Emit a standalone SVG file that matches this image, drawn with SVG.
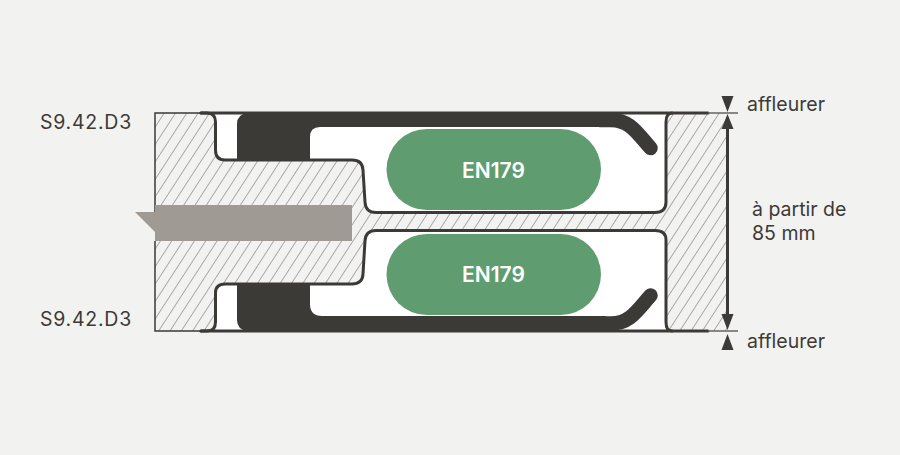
<svg xmlns="http://www.w3.org/2000/svg" width="900" height="455" viewBox="0 0 900 455">
<style>
.o{fill:none;stroke:#3c3a37;stroke-width:3;stroke-linejoin:round;stroke-linecap:round}
.d{fill:#3c3a37}
.l{fill:none;stroke:#3c3a37;stroke-width:14.500;stroke-linecap:round}
.g{fill:#5f9d71}
.t{font-family:"Inter","Liberation Sans",sans-serif;font-size:19.5px;fill:#3c3a37}
.c{letter-spacing:.75px}
.w{font-family:"Inter","Liberation Sans",sans-serif;font-size:21px;font-weight:600;fill:#fff;text-anchor:middle}
</style>
<defs>
<pattern id="h" width="9.5" height="20" patternUnits="userSpaceOnUse" patternTransform="translate(175 113) rotate(33)">
<line x1="0" y1="0" x2="0" y2="20" stroke="#6f6d69" stroke-width="1.100"/>
</pattern>
</defs>
<rect width="900" height="455" fill="#f2f2f0"/>
<g id="section">
<rect x="155" y="113" width="572" height="218" fill="url(#h)"/>
<path fill="#fff" d="M215.500 113V150Q215.500 160 225 160H352Q362.500 160 363 170L365 202Q365.500 212.500 376 212.500H655Q666 212.500 666 202V122Q666 113 672 113Z"/>
<path fill="#fff" d="M215.500 331V293Q215.500 284 225 284H352Q362.500 284 363 274L365 241Q365.500 230.500 376 230.500H655Q666 230.500 666 240V322Q666 331 672 331Z"/>
<path fill="none" stroke="#3c3a37" stroke-width="1.500" d="M155 231V113H205M155 241V331H205"/>
</g>
<g id="insert">
<path fill="#9f9b94" d="M155 205H352V241H155V232L135 212H155Z"/>
</g>
<g id="profile-top">
<path class="d" d="M237 160V124Q237 114 248 113H606V127H320Q310 127 310 137V160Z"/>
<path class="l" d="M600 120H611C630 120 637 133 650.500 148"/>
<path class="o" d="M201 113H207Q215.500 113 215.500 122V150Q215.500 160 225 160H352Q362.500 160 363 170L365 202Q365.500 212.500 376 212.500H655Q666 212.500 666 202V122Q666 113 672 113"/>
<path class="o" d="M201 113H708"/>
</g>
<g id="profile-bottom">
<path class="d" d="M237 284V320Q237 330 248 331H606V316H322Q310 316 310 304V284Z"/>
<path class="l" d="M600 323.500H611C630 323.500 637 310.500 650.500 295.500"/>
<path class="o" d="M201 331H207Q215.500 331 215.500 322V293Q215.500 284 225 284H352Q362.500 284 363 274L365 241Q365.500 230.500 376 230.500H655Q666 230.500 666 240V322Q666 331 672 331"/>
<path class="o" d="M201 331H708"/>
</g>
<g id="seal-top"><rect class="g" x="386.500" y="129" width="214.500" height="81" rx="40.500"/><text class="w" x="493.500" y="177.500">EN179</text></g>
<g id="seal-bottom"><rect class="g" x="386.500" y="234" width="214.500" height="81" rx="40.500"/><text class="w" x="493.500" y="282">EN179</text></g>
<g id="dimensions">
<path fill="none" stroke="#66645f" stroke-width="1.500" d="M708 113H738M708 331H738"/>
<path fill="none" stroke="#3c3a37" stroke-width="3" d="M727.500 125V319"/>
<path class="d" d="M721.500 96H733.500L727.500 112ZM727.500 114L733.500 129H721.500ZM721.500 314H733.500L727.500 330ZM727.500 334L733.500 350H721.500Z"/>
</g>
<g id="labels">
<text class="t c" x="40" y="129">S9.42.D3</text>
<text class="t c" x="40" y="325.500">S9.42.D3</text>
<text class="t" x="747" y="110.500">affleurer</text>
<text class="t" x="747" y="347.500">affleurer</text>
<text class="t" x="752" y="216">à partir de</text>
<text class="t" x="752" y="239.500">85 mm</text>
</g>
</svg>
